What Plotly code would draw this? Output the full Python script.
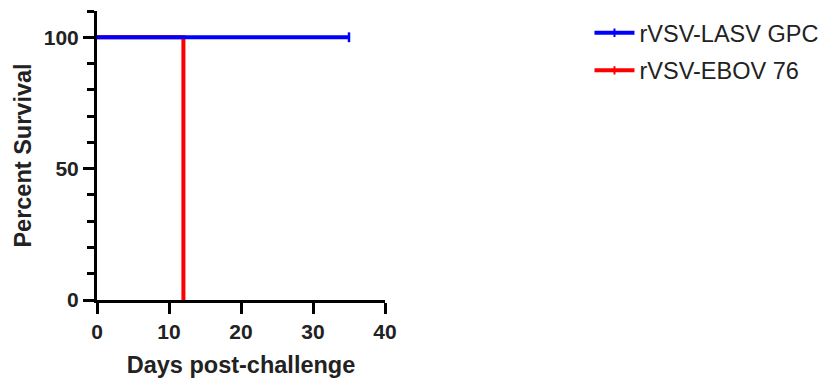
import plotly.graph_objects as go

# Data
series_names = ["rVSV-LASV GPC", "rVSV-EBOV 76"]
series_colors = ["#0000ff", "#ff0000"]
lasv_days = [0, 35]
lasv_survival = [100, 100]
lasv_censored_days = [35]
lasv_censored_survival = [100]
ebov_days = [0, 12]
ebov_survival = [100, 0]

x_ticks = [0, 10, 20, 30, 40]
y_ticks = [0, 50, 100]

FONT = "Liberation Sans, Arial, sans-serif"
TXT = "#222222"

fig = go.Figure()

# EBOV curve first (below)
fig.add_trace(go.Scatter(x=ebov_days, y=ebov_survival, mode="lines",
                         line=dict(color=series_colors[1], width=4, shape="hv"),
                         showlegend=False, hoverinfo="skip", cliponaxis=False))
# LASV curve
fig.add_trace(go.Scatter(x=lasv_days, y=lasv_survival, mode="lines",
                         line=dict(color=series_colors[0], width=4, shape="hv"),
                         showlegend=False, hoverinfo="skip", cliponaxis=False))
# censor marks
fig.add_trace(go.Scatter(x=lasv_censored_days, y=lasv_censored_survival, mode="markers",
                         marker=dict(symbol="line-ns", size=7, line=dict(color=series_colors[0], width=2.5)),
                         showlegend=False, hoverinfo="skip", cliponaxis=False))

# legend entries
for i, (name, col) in enumerate(zip(series_names, series_colors)):
    fig.add_trace(go.Scatter(x=[None], y=[None], mode="lines+markers", name=name, legendgroup=f"g{i}",
                             line=dict(color=col, width=4),
                             marker=dict(symbol="line-ns", size=6, line=dict(color=col, width=2))))

fig.update_layout(
    width=826, height=381,
    margin=dict(l=97, r=441, t=11, b=81, autoexpand=False),
    paper_bgcolor="white", plot_bgcolor="white",
    font=dict(family=FONT, color=TXT),
    legend=dict(x=1.71, y=1.0, xanchor="left", yanchor="top", traceorder="grouped", tracegroupgap=4,
                itemwidth=40,
                font=dict(size=23.5, family=FONT, color=TXT), bgcolor="rgba(0,0,0,0)"),
    xaxis=dict(range=[0, 40], tickvals=x_ticks, ticktext=[str(v) for v in x_ticks], automargin=False,
               showline=True, linecolor="black", linewidth=3, ticks="outside", ticklen=11, tickwidth=3,
               tickcolor="black", showgrid=False, zeroline=False,
               tickfont=dict(size=21, family=FONT, weight="bold", color=TXT),
               title=dict(text="Days post-challenge", font=dict(size=23.5, family=FONT, weight="bold", color=TXT), standoff=15)),
    yaxis=dict(range=[0, 110], tickvals=y_ticks, ticktext=[str(v) for v in y_ticks], automargin=False,
               showline=True, linecolor="black", linewidth=3, ticks="outside", ticklen=11, tickwidth=3,
               tickcolor="black", showgrid=False, zeroline=False,
               minor=dict(dtick=10, tick0=0, ticks="outside", ticklen=7, tickwidth=2.5, tickcolor="black", showgrid=False),
               tickfont=dict(size=21, family=FONT, weight="bold", color=TXT),
               title=dict(text="Percent Survival", font=dict(size=23.5, family=FONT, weight="bold", color=TXT), standoff=6)),
)

fig.write_html("out.html", config={"displayModeBar": False},
               post_script="document.body.style.margin='0';")
